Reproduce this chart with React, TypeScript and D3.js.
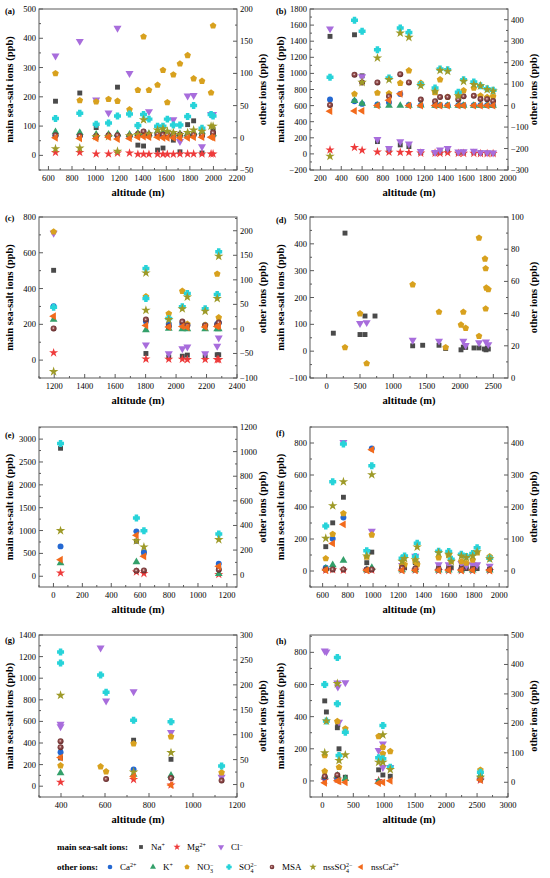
import React from "react"
import * as d3 from "d3"

type P = [number, number]

// ---- panel (a) ----
const aNa: P[] = [[660,185],[866,213],[1005,95],[1186,233],[1359,35],[1407,32],[1526,18],[1572,25],[1660,52],[1716,12],[1781,105],[1832,118],[1903,8],[1997,88]]
const aMg: P[] = [[660,10],[866,10],[1005,5],[1110,5],[1186,8],[1288,8],[1359,4],[1407,4],[1453,4],[1526,4],[1572,4],[1609,4],[1660,4],[1716,5],[1781,5],[1832,5],[1903,5],[1980,5],[1997,5]]
const aCl: P[] = [[660,340],[866,390],[1005,190],[1110,145],[1186,435],[1288,280],[1453,150],[1660,122],[1716,48],[1781,203],[1832,205],[1903,30],[1980,140],[1997,140]]
const aCa: P[] = [[660,3],[866,3],[1005,2],[1110,3],[1186,3],[1288,2],[1359,4],[1407,5],[1453,4],[1526,4],[1572,4],[1609,3],[1660,3],[1716,3],[1781,3],[1832,4],[1903,3],[1997,4]]
const aK: P[] = [[660,9],[866,8],[1005,5],[1110,5],[1186,6],[1288,5],[1359,7],[1407,7],[1453,6],[1526,10],[1572,8],[1609,6],[1660,6],[1716,6],[1781,6],[1832,8],[1903,9],[1997,6]]
const aNO3: P[] = [[660,100],[866,58],[1005,56],[1110,60],[1186,57],[1288,44],[1359,74],[1407,157],[1453,74],[1526,82],[1572,105],[1609,55],[1660,98],[1716,115],[1781,128],[1832,92],[1903,88],[1980,70],[1997,174]]
const aSO4: P[] = [[660,30],[866,38],[1005,21],[1110,23],[1186,34],[1288,37],[1359,19],[1407,36],[1453,29],[1526,18],[1572,18],[1609,29],[1660,20],[1716,20],[1781,33],[1832,50],[1903,15],[1980,36],[1997,34]]
const aMSA: P[] = [[660,4],[866,3],[1005,3],[1110,4],[1186,4],[1288,3],[1359,6],[1407,10],[1453,5],[1526,6],[1572,5],[1609,5],[1660,5],[1716,5],[1781,3],[1832,5],[1903,4],[1997,8]]
const aNssSO4: P[] = [[660,-17],[866,-16],[1005,2],[1110,2],[1186,-21],[1288,3],[1359,5],[1407,28],[1453,6],[1526,12],[1572,14],[1609,10],[1660,8],[1716,5],[1781,8],[1832,12],[1903,10],[1980,18],[1997,18]]
const aNssCa: P[] = [[660,0],[866,-1],[1005,-1],[1110,1],[1186,-2],[1288,-1],[1359,1],[1407,2],[1453,1],[1526,1],[1572,0],[1609,0],[1660,0],[1716,0],[1781,0],[1832,1],[1903,1],[1980,1],[1997,0]]

// ---- panel (b) ----
const bNa: P[] = [[292,1460],[527,1480],[600,970],[747,153],[858,41],[966,112],[1049,91],[1163,17],[1300,17],[1348,17],[1421,37],[1523,15],[1574,20],[1672,20],[1736,12],[1800,10],[1857,8]]
const bMg: P[] = [[292,50],[527,80],[600,45],[747,25],[858,22],[966,20],[1049,18],[1163,10],[1300,10],[1348,8],[1421,15],[1523,8],[1574,8],[1672,8],[1736,5],[1800,5],[1857,5]]
const bCl: P[] = [[292,1555],[600,960],[747,182],[858,70],[966,153],[1049,124],[1163,33],[1300,20],[1348,50],[1421,70],[1523,25],[1574,30],[1672,35],[1736,18],[1800,15],[1857,12]]
const bCa: P[] = [[292,28],[527,20],[600,8],[747,5],[858,15],[966,54],[1049,3],[1163,2],[1300,2],[1348,2],[1421,2],[1523,2],[1574,2],[1672,2],[1736,2],[1800,2],[1857,2]]
const bK: P[] = [[527,23],[600,10],[747,0],[858,0],[966,0],[1049,0],[1163,2],[1300,0],[1348,0],[1421,0],[1523,0],[1574,0],[1672,0],[1736,0],[1800,0],[1857,0]]
const bNO3: P[] = [[527,54],[747,59],[858,56],[966,105],[1049,163],[1163,105],[1300,62],[1348,121],[1421,40],[1523,43],[1574,70],[1672,82],[1736,46],[1800,39],[1857,42]]
const bSO4: P[] = [[292,132],[527,398],[600,346],[747,260],[858,129],[966,361],[1049,341],[1163,98],[1300,82],[1348,170],[1421,167],[1523,62],[1574,121],[1672,110],[1736,93],[1800,78],[1857,71]]
const bMSA: P[] = [[292,3],[527,144],[600,108],[747,108],[858,43],[966,146],[1049,108],[1163,28],[1300,20],[1348,40],[1421,40],[1523,28],[1574,43],[1672,46],[1736,31],[1800,30],[1857,22]]
const bNssSO4: P[] = [[292,-236],[600,108],[747,222],[858,121],[966,338],[1049,318],[1163,93],[1300,67],[1348,164],[1421,160],[1523,46],[1574,113],[1672,98],[1736,92],[1800,75],[1857,68]]
const bNssCa: P[] = [[292,-26],[527,-25],[600,-24],[747,0],[858,25],[966,55],[1049,0],[1163,0],[1300,0],[1348,0],[1421,0],[1523,0],[1574,0],[1672,0],[1736,0],[1800,0],[1857,0]]

// ---- panel (c) ----
const cNa: P[] = [[1196,502],[1802,37],[1952,17],[2041,22],[2074,28],[2191,19],[2270,30],[2280,30]]
const cMg: P[] = [[1196,41],[1802,6],[1952,5],[2041,5],[2074,3],[2191,4],[2270,3],[2280,3]]
const cCl: P[] = [[1196,710],[1802,86],[1952,37],[2041,65],[2074,74],[2191,37],[2270,78],[2280,125]]
const cCa: P[] = [[1196,46],[1802,15],[1952,10],[2041,10],[2074,8],[2191,8],[2270,10],[2280,12]]
const cK: P[] = [[1196,19],[1802,-2],[1952,1],[2041,0],[2074,0],[2191,0],[2270,0],[2280,0]]
const cNO3: P[] = [[1196,198],[1802,66],[1952,31],[2041,77],[2074,10],[2191,8],[2270,112],[2280,23]]
const cSO4: P[] = [[1196,44],[1802,123],[1802,62],[1952,21],[2041,45],[2074,72],[2191,41],[2270,70],[2280,157]]
const cMSA: P[] = [[1196,1],[1802,19],[1952,5],[2041,15],[2074,7],[2191,7],[2270,8],[2280,13]]
const cNssSO4: P[] = [[1196,-87],[1802,114],[1802,38],[1952,19],[2041,41],[2074,65],[2191,36],[2270,62],[2280,148]]
const cNssCa: P[] = [[1196,26],[1802,7],[1952,4],[2041,5],[2074,3],[2191,4],[2270,5],[2280,6]]

// ---- panel (d) ----
const dNa: P[] = [[100,67],[275,440],[500,62],[575,131],[575,62],[725,131],[1290,20],[1440,22],[1685,22],[1785,10],[2015,5],[2050,15],[2085,14],[2210,12],[2285,12],[2365,8],[2390,5],[2410,12],[2425,8]]
const dCl: P[] = [[500,104],[600,107],[1290,41],[1685,38],[2050,38],[2085,22],[2285,32],[2390,35],[2425,25]]
const dNO3: P[] = [[275,19],[500,40],[600,9],[1290,58],[1685,41],[1785,19],[2015,33],[2050,41],[2085,31],[2285,26],[2285,87],[2375,74],[2385,68],[2385,43],[2395,56],[2425,55]]

// ---- panel (e) ----
const eNa: P[] = [[49,2800],[574,766],[626,511],[1144,168]]
const eMg: P[] = [[49,73],[574,95],[626,60],[1144,40]]
const eCa: P[] = [[49,230],[574,352],[626,182],[1144,89]]
const eK: P[] = [[49,95],[574,103],[1144,8]]
const eSO4: P[] = [[49,1065],[574,461],[626,358],[1144,331]]
const eMSA: P[] = [[574,33],[626,35],[1144,41]]
const eNssSO4: P[] = [[49,358],[574,276],[626,225],[1144,285]]
const eNssCa: P[] = [[49,122],[574,320],[626,149],[1144,68]]

// ---- panel (f) ----
const fNa: P[] = [[625,152],[680,301],[765,461],[950,52],[990,118],[1230,25],[1250,20],[1335,52],[1350,45],[1520,20],[1600,25],[1620,20],[1700,25],[1740,15],[1790,20],[1825,15],[1925,10]]
const fMg: P[] = [[625,5],[680,8],[765,5],[950,5],[990,5],[1230,5],[1335,5],[1520,3],[1600,3],[1700,3],[1790,3],[1925,3]]
const fCl: P[] = [[765,805],[990,250],[1230,35],[1335,94],[1520,40],[1600,40],[1700,48],[1740,35],[1790,40],[1825,40],[1925,31]]
const fCa: P[] = [[625,10],[680,101],[765,167],[950,5],[990,383],[1230,5],[1335,5],[1520,4],[1600,4],[1700,4],[1790,4],[1925,4]]
const fK: P[] = [[625,8],[680,19],[765,33],[950,3],[990,10],[1230,3],[1335,3],[1520,2],[1600,2],[1700,2],[1790,2],[1925,2]]
const fNO3: P[] = [[625,39],[680,115],[765,180],[950,44],[990,113],[1230,15],[1250,20],[1335,31],[1350,20],[1520,42],[1600,49],[1620,30],[1700,30],[1740,25],[1790,35],[1825,57],[1925,45]]
const fSO4: P[] = [[625,141],[680,279],[765,397],[950,63],[990,329],[1230,40],[1250,47],[1335,45],[1350,87],[1520,62],[1600,61],[1620,37],[1700,52],[1740,45],[1790,55],[1825,73],[1925,40]]
const fMSA: P[] = [[625,5],[680,5],[765,5],[950,5],[990,5],[1230,10],[1335,8],[1520,6],[1600,6],[1700,6],[1790,6],[1925,5]]
const fNssSO4: P[] = [[625,102],[680,204],[765,279],[950,47],[990,301],[1230,30],[1250,39],[1335,35],[1350,75],[1520,57],[1600,52],[1620,30],[1700,47],[1740,42],[1790,47],[1825,60],[1925,38]]
const fNssCa: P[] = [[625,3],[680,86],[765,146],[950,2],[990,379],[1230,2],[1335,2],[1520,2],[1600,2],[1700,2],[1790,2],[1925,2]]

// ---- panel (g) ----
const gNa: P[] = [[398,261],[730,426],[900,249]]
const gMg: P[] = [[398,37],[730,62],[900,12]]
const gCl: P[] = [[398,576],[398,551],[580,1282],[605,790],[730,877],[900,498],[1130,84]]
const gCa: P[] = [[398,65],[730,30]]
const gK: P[] = [[398,23],[730,20],[900,18]]
const gNO3: P[] = [[398,38],[580,36],[605,26],[730,82],[900,96],[1130,24]]
const gSO4: P[] = [[398,266],[398,244],[580,220],[605,185],[730,129],[900,126],[1130,37]]
const gMSA: P[] = [[398,87],[398,75],[605,11],[900,13],[1130,8]]
const gNssSO4: P[] = [[398,179],[730,25],[900,64]]
const gNssCa: P[] = [[398,54],[730,16],[900,-1]]

// ---- panel (h) ----
const hNa: P[] = [[38,498],[65,429],[242,331],[250,350],[269,200],[371,23],[909,69],[978,37],[1097,29],[2554,8]]
const hMg: P[] = [[38,5],[242,10],[909,3],[2554,5]]
const hCl: P[] = [[38,810],[65,804],[242,610],[250,585],[269,367],[371,612],[909,190],[978,231],[978,85],[1097,85]]
const hCa: P[] = [[38,15],[242,10],[909,2],[2554,10]]
const hK: P[] = [[38,20],[242,23],[371,12],[909,3],[2554,25]]
const hNO3: P[] = [[38,37],[38,91],[242,207],[269,51],[371,182],[909,156],[978,119],[978,97],[1097,105],[2554,42]]
const hSO4: P[] = [[38,332],[65,208],[242,424],[242,267],[269,91],[371,170],[909,83],[978,193],[978,80],[1097,51],[2554,34]]
const hMSA: P[] = [[38,20],[242,25],[2554,12]]
const hNssSO4: P[] = [[38,100],[65,208],[242,335],[269,74],[371,93],[909,68],[978,161],[978,68],[1097,43],[2554,17]]
const hNssCa: P[] = [[38,-2],[242,5],[269,3],[371,0],[909,-3],[978,0],[1097,5],[2554,8]]

// ---- ticks ----
const aXt = [600, 800, 1000, 1200, 1400, 1600, 1800, 2000, 2200]
const aLt = [0, 100, 200, 300, 400, 500]
const aRt = [-50, 0, 50, 100, 150, 200]
const bXt = [200, 400, 600, 800, 1000, 1200, 1400, 1600, 1800, 2000]
const bLt = [-200, 0, 200, 400, 600, 800, 1000, 1200, 1400, 1600, 1800]
const bRt = [-300, -200, -100, 0, 100, 200, 300, 400]
const cXt = [1200, 1400, 1600, 1800, 2000, 2200, 2400]
const cLt = [0, 200, 400, 600, 800]
const cRt = [-100, -50, 0, 50, 100, 150, 200]
const dXt = [0, 500, 1000, 1500, 2000, 2500]
const dLt = [-100, 0, 100, 200, 300, 400, 500]
const dRt = [0, 20, 40, 60, 80, 100]
const eXt = [0, 200, 400, 600, 800, 1000, 1200]
const eLt = [0, 500, 1000, 1500, 2000, 2500, 3000]
const eRt = [0, 200, 400, 600, 800, 1000, 1200]
const fXt = [600, 800, 1000, 1200, 1400, 1600, 1800, 2000]
const fLt = [0, 200, 400, 600, 800]
const fRt = [0, 100, 200, 300, 400]
const gXt = [400, 600, 800, 1000, 1200]
const gLt = [0, 200, 400, 600, 800, 1000, 1200, 1400]
const gRt = [0, 50, 100, 150, 200, 250, 300]
const hXt = [0, 500, 1000, 1500, 2000, 2500, 3000]
const hLt = [0, 200, 400, 600, 800]
const hRt = [0, 100, 200, 300, 400, 500]

const pentagon: d3.SymbolType = {
  draw(ctx, size) {
    const r = Math.sqrt(size) * 0.64
    for (let i = 0; i < 5; i++) {
      const a = -Math.PI / 2 + (i * 2 * Math.PI) / 5
      const px = r * Math.cos(a)
      const py = r * Math.sin(a)
      if (i === 0) ctx.moveTo(px, py)
      else ctx.lineTo(px, py)
    }
    ctx.closePath()
  },
}

// fat plus, the SO4 marker looks chunkier than d3's cross
const fatCross: d3.SymbolType = {
  draw(ctx, size) {
    const r = Math.sqrt(size) * 0.6
    const w = r * 0.5
    ctx.moveTo(-w, -r)
    ctx.lineTo(w, -r)
    ctx.lineTo(w, -w)
    ctx.lineTo(r, -w)
    ctx.lineTo(r, w)
    ctx.lineTo(w, w)
    ctx.lineTo(w, r)
    ctx.lineTo(-w, r)
    ctx.lineTo(-w, w)
    ctx.lineTo(-r, w)
    ctx.lineTo(-r, -w)
    ctx.lineTo(-w, -w)
    ctx.closePath()
  },
}

type Style = { key: string; color: string; type: d3.SymbolType; rot: number; size: number; left: boolean }

const styles: Style[] = [
  { key: "Na", color: "#4a4a4a", type: d3.symbolSquare, rot: 0, size: 24, left: true },
  { key: "Mg", color: "#ee3b3b", type: d3.symbolStar, rot: 0, size: 26, left: true },
  { key: "Cl", color: "#a86ddc", type: d3.symbolTriangle, rot: 180, size: 28, left: true },
  { key: "Ca", color: "#2468d2", type: d3.symbolCircle, rot: 0, size: 28, left: false },
  { key: "K", color: "#33a06a", type: d3.symbolTriangle, rot: 0, size: 26, left: false },
  { key: "NO3", color: "#d8a11e", type: pentagon, rot: 0, size: 30, left: false },
  { key: "SO4", color: "#27d3d9", type: fatCross, rot: 0, size: 34, left: false },
  { key: "MSA", color: "url(#msa)", type: d3.symbolCircle, rot: 0, size: 28, left: false },
  { key: "nssSO4", color: "#9e9a28", type: d3.symbolStar, rot: 0, size: 28, left: false },
  { key: "nssCa", color: "#f26a1c", type: d3.symbolTriangle, rot: -90, size: 26, left: false },
]

type Panel = {
  tag: string
  col: number
  row: number
  tagDy: number
  xDom: [number, number]
  lDom: [number, number]
  rDom: [number, number]
  xT: number[]
  lT: number[]
  rT: number[]
  data: Record<string, P[]>
}

const panels: Panel[] = [
  { tag: "(a)", col: 0, row: 0, tagDy: 2, xDom: [520, 2200], lDom: [-50, 500], rDom: [-50, 200], xT: aXt, lT: aLt, rT: aRt,
    data: { Na: aNa, Mg: aMg, Cl: aCl, Ca: aCa, K: aK, NO3: aNO3, SO4: aSO4, MSA: aMSA, nssSO4: aNssSO4, nssCa: aNssCa } },
  { tag: "(b)", col: 1, row: 0, tagDy: 2, xDom: [100, 2000], lDom: [-200, 1800], rDom: [-300, 450], xT: bXt, lT: bLt, rT: bRt,
    data: { Na: bNa, Mg: bMg, Cl: bCl, Ca: bCa, K: bK, NO3: bNO3, SO4: bSO4, MSA: bMSA, nssSO4: bNssSO4, nssCa: bNssCa } },
  { tag: "(c)", col: 0, row: 1, tagDy: 1, xDom: [1100, 2400], lDom: [-100, 800], rDom: [-100, 228], xT: cXt, lT: cLt, rT: cRt,
    data: { Na: cNa, Mg: cMg, Cl: cCl, Ca: cCa, K: cK, NO3: cNO3, SO4: cSO4, MSA: cMSA, nssSO4: cNssSO4, nssCa: cNssCa } },
  { tag: "(d)", col: 1, row: 1, tagDy: 3, xDom: [-250, 2720], lDom: [-100, 500], rDom: [0, 100], xT: dXt, lT: dLt, rT: dRt,
    data: { Na: dNa, Cl: dCl, NO3: dNO3 } },
  { tag: "(e)", col: 0, row: 2, tagDy: 8, xDom: [-100, 1270], lDom: [-235, 3265], rDom: [-100, 1200], xT: eXt, lT: eLt, rT: eRt,
    data: { Na: eNa, Mg: eMg, Ca: eCa, K: eK, SO4: eSO4, MSA: eMSA, nssSO4: eNssSO4, nssCa: eNssCa } },
  { tag: "(f)", col: 1, row: 2, tagDy: 6, xDom: [500, 2070], lDom: [-100, 900], rDom: [-50, 450], xT: fXt, lT: fLt, rT: fRt,
    data: { Na: fNa, Mg: fMg, Cl: fCl, Ca: fCa, K: fK, NO3: fNO3, SO4: fSO4, MSA: fMSA, nssSO4: fNssSO4, nssCa: fNssCa } },
  { tag: "(g)", col: 0, row: 3, tagDy: 5, xDom: [300, 1200], lDom: [-100, 1400], rDom: [-25, 300], xT: gXt, lT: gLt, rT: gRt,
    data: { Na: gNa, Mg: gMg, Cl: gCl, Ca: gCa, K: gK, NO3: gNO3, SO4: gSO4, MSA: gMSA, nssSO4: gNssSO4, nssCa: gNssCa } },
  { tag: "(h)", col: 1, row: 3, tagDy: 6, xDom: [-200, 3000], lDom: [-100, 908], rDom: [-50, 500], xT: hXt, lT: hLt, rT: hRt,
    data: { Na: hNa, Mg: hMg, Cl: hCl, Ca: hCa, K: hK, NO3: hNO3, SO4: hSO4, MSA: hMSA, nssSO4: hNssSO4, nssCa: hNssCa } },
]

const COLS: [number, number][] = [[39, 237], [310, 508]]
const ROWS: [number, number][] = [[9, 170], [217, 378], [427, 587], [635, 797]]
const FONT = "'Liberation Serif', 'Times New Roman', serif"
const AXIS = "#5a5a5a"

const symPath = (s: Style, scale = 1) => d3.symbol().type(s.type).size(s.size * scale)() as string

function minors(t: number[], dom: [number, number]) {
  const step = t[1] - t[0]
  const out: number[] = []
  for (let v = t[0] - step / 2; v <= dom[1]; v += step) {
    if (v >= dom[0]) out.push(v)
  }
  return out
}

const fmt = (t: number) => (t < 0 ? "\u2212" + -t : String(t))

function Chart({ p }: { p: Panel }) {
  const [x0, x1] = COLS[p.col]
  const [y0, y1] = ROWS[p.row]
  const x = d3.scaleLinear().domain(p.xDom).range([x0, x1])
  const yl = d3.scaleLinear().domain(p.lDom).range([y1, y0])
  const yr = d3.scaleLinear().domain(p.rDom).range([y1, y0])
  const cy = (y0 + y1) / 2
  const cx = (x0 + x1) / 2
  return (
    <g>
      {styles.map((s) => {
        const pts = p.data[s.key]
        if (!pts) return null
        const y = s.left ? yl : yr
        const d = symPath(s)
        return (
          <g key={s.key}>
            {pts.map((v, i) => (
              <path key={i} d={d} fill={s.color}
                transform={`translate(${x(v[0])},${y(v[1])}) rotate(${s.rot})`} />
            ))}
          </g>
        )
      })}
      <rect x={x0} y={y0} width={x1 - x0} height={y1 - y0} fill="none" stroke={AXIS} strokeWidth={1} />
      {/* bottom ticks */}
      {p.xT.map((t) => (
        <g key={"x" + t}>
          <line x1={x(t)} x2={x(t)} y1={y1} y2={y1 - 4} stroke={AXIS} />
          <text x={x(t)} y={y1 + 11} fontSize={8.5} textAnchor="middle" fontFamily={FONT}>{t}</text>
        </g>
      ))}
      {minors(p.xT, p.xDom).map((t) => (
        <line key={"xm" + t} x1={x(t)} x2={x(t)} y1={y1} y2={y1 - 2} stroke={AXIS} />
      ))}
      {/* left ticks */}
      {p.lT.map((t) => (
        <g key={"l" + t}>
          <line x1={x0} x2={x0 + 4} y1={yl(t)} y2={yl(t)} stroke={AXIS} />
          <text x={x0 - 3} y={yl(t) + 3} fontSize={8.5} textAnchor="end" fontFamily={FONT}>{fmt(t)}</text>
        </g>
      ))}
      {minors(p.lT, p.lDom).map((t) => (
        <line key={"lm" + t} x1={x0} x2={x0 + 2} y1={yl(t)} y2={yl(t)} stroke={AXIS} />
      ))}
      {/* right ticks */}
      {p.rT.map((t) => (
        <g key={"r" + t}>
          <line x1={x1} x2={x1 - 4} y1={yr(t)} y2={yr(t)} stroke={AXIS} />
          <text x={x1 + 3} y={yr(t) + 3} fontSize={8.5} textAnchor="start" fontFamily={FONT}>{fmt(t)}</text>
        </g>
      ))}
      {minors(p.rT, p.rDom).map((t) => (
        <line key={"rm" + t} x1={x1} x2={x1 - 2} y1={yr(t)} y2={yr(t)} stroke={AXIS} />
      ))}
      <text x={x0 - 34} y={y0 + p.tagDy + 3} fontSize={8.5} fontWeight="bold" fontFamily={FONT}>{p.tag}</text>
      <text x={cx} y={y1 + 26} fontSize={10.5} fontWeight="bold" textAnchor="middle" fontFamily={FONT}>altitude (m)</text>
      <text transform={`translate(${x0 - 26},${cy}) rotate(-90)`} fontSize={10.5} fontWeight="bold" textAnchor="middle" fontFamily={FONT}>
        main sea-salt ions (ppb)
      </text>
      <text transform={`translate(${x1 + 29},${cy}) rotate(-90)`} fontSize={10.5} fontWeight="bold" textAnchor="middle" fontFamily={FONT}>
        other ions (ppb)
      </text>
    </g>
  )
}

const sup = (s: string) => (
  <tspan dy={-3.5} fontSize={6}>{s}</tspan>
)

function LegendItem({ s, x, y, label }: { s: Style; x: number; y: number; label: React.ReactNode }) {
  return (
    <g>
      <path d={symPath(s, 0.6)} fill={s.color} transform={`translate(${x},${y - 3}) rotate(${s.rot})`} />
      <text x={x + 10} y={y} fontSize={9} fontFamily={FONT}>{label}</text>
    </g>
  )
}

const st = (k: string) => styles.find((s) => s.key === k)!

export default function App() {
  const r1 = 850
  const r2 = 870
  return (
    <svg width={550} height={878} style={{ position: "absolute", left: 0, top: 0, background: "#fff" }}>
      <defs>
        <radialGradient id="msa" cx="0.45" cy="0.45" r="0.55">
          <stop offset="0" stopColor="#f4e4e4" />
          <stop offset="0.35" stopColor="#9a5454" />
          <stop offset="1" stopColor="#5e2626" />
        </radialGradient>
      </defs>
      {panels.map((p) => (
        <Chart key={p.tag} p={p} />
      ))}
      <text x={57} y={r1} fontSize={9} fontWeight="bold" fontFamily={FONT}>main sea-salt ions:</text>
      <LegendItem s={st("Na")} x={141} y={r1} label={<>Na{sup("+")}</>} />
      <LegendItem s={st("Mg")} x={177} y={r1} label={<>Mg{sup("2+")}</>} />
      <LegendItem s={st("Cl")} x={221} y={r1} label={<>Cl{sup("\u2212")}</>} />
      <text x={57} y={r2} fontSize={9} fontWeight="bold" fontFamily={FONT}>other ions:</text>
      <LegendItem s={st("Ca")} x={110} y={r2} label={<>Ca{sup("2+")}</>} />
      <LegendItem s={st("K")} x={153} y={r2} label={<>K{sup("+")}</>} />
      <LegendItem s={st("NO3")} x={187} y={r2} label={<>NO<tspan dy={2.5} fontSize={6}>3</tspan><tspan dx={-3} dy={-6} fontSize={6}>{"\u2212"}</tspan></>} />
      <LegendItem s={st("SO4")} x={229} y={r2} label={<>SO<tspan dy={2.5} fontSize={6}>4</tspan><tspan dx={-3} dy={-6} fontSize={6}>{"2\u2212"}</tspan></>} />
      <LegendItem s={st("MSA")} x={272} y={r2} label={<>MSA</>} />
      <LegendItem s={st("nssSO4")} x={313} y={r2} label={<>nssSO<tspan dy={2.5} fontSize={6}>4</tspan><tspan dx={-3} dy={-6} fontSize={6}>{"2\u2212"}</tspan></>} />
      <LegendItem s={st("nssCa")} x={361} y={r2} label={<>nssCa{sup("2+")}</>} />
    </svg>
  )
}
